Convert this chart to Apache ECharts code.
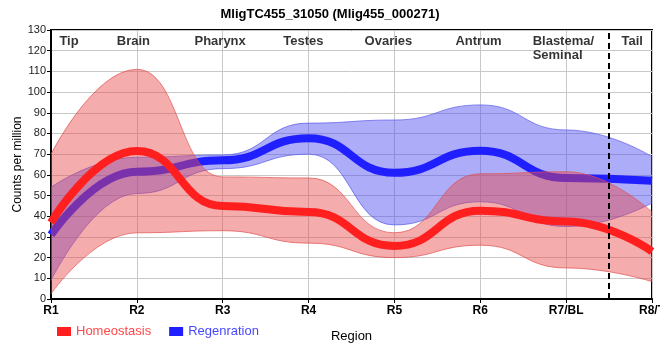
<!DOCTYPE html>
<html>
<head>
<meta charset="utf-8">
<script src="https://cdn.jsdelivr.net/npm/echarts@6/dist/echarts.min.js"></script>
<style>html,body{margin:0;padding:0;background:#fff}#c{width:660px;height:360px}</style>
</head>
<body>
<div id="c"></div>
<script>
var categories = ['R1', 'R2', 'R3', 'R4', 'R5', 'R6', 'R7/BL', 'R8/T'];
var homeo     = [37, 71.5, 45, 42, 25.6, 42.7, 37.5, 23];
var homeoLow  = [2.5, 32, 33, 27, 20, 26, 15, 8.4];
var homeoHigh = [70, 111, 59, 58.5, 32, 60.5, 61.5, 42];
var regen     = [31, 61.5, 67, 77.7, 61, 71.7, 58.5, 57.2];
var regenLow  = [9, 51, 63, 70, 35.8, 47, 35, 46.4];
var regenHigh = [54, 68.5, 69.6, 85, 86.5, 93.8, 81.7, 68.8];
var regionNames = ['Tip', 'Brain', 'Pharynx', 'Testes', 'Ovaries', 'Antrum', 'Blastema/\nSeminal', 'Tail'];
var regionX = [0.21, 0.96, 1.97, 2.94, 3.93, 4.98, 5.61, 6.77];
var regionY = [124.6, 124.6, 124.6, 124.6, 124.6, 124.6, 121.3, 124.6];
var tailBoundary = 6.5;

function diff(hi, lo) { return hi.map(function (v, i) { return +(v - lo[i]).toFixed(3); }); }

var RED = '#ff1f1f', BLUE = '#1f1fff';
var redBand = 'rgba(232,70,70,0.45)', blueBand = 'rgba(70,70,240,0.45)';
var redEdge = 'rgba(225,80,80,0.7)', blueEdge = 'rgba(90,90,235,0.7)';

function band(stack, lo, hi, fill, edge, z) {
  return [{
    type: 'line', stack: stack, data: lo, smooth: true, smoothMonotone: 'x',
    symbol: 'none', silent: true, z: z,
    lineStyle: { width: 1, color: edge }
  }, {
    type: 'line', stack: stack, data: diff(hi, lo), smooth: true, smoothMonotone: 'x',
    symbol: 'none', silent: true, z: z,
    lineStyle: { width: 1, color: edge },
    areaStyle: { color: fill, opacity: 1 }
  }];
}

var series = [];
series = series.concat(band('regenBand', regenLow, regenHigh, blueBand, blueEdge, 1));
series.push({
  name: 'Regenration', type: 'line', data: regen, smooth: true, smoothMonotone: 'x',
  symbol: 'none', z: 2, color: BLUE, lineStyle: { width: 8, color: BLUE }
});
series = series.concat(band('homeoBand', homeoLow, homeoHigh, redBand, redEdge, 3));
series.push({
  name: 'Homeostasis', type: 'line', data: homeo, smooth: true, smoothMonotone: 'x',
  symbol: 'none', z: 4, color: RED, lineStyle: { width: 8, color: RED }
});
series.push({
  type: 'scatter', xAxisIndex: 1, symbolSize: 0, z: 6, silent: true,
  data: regionNames.map(function (n, i) {
    var d = { value: [regionX[i], regionY[i]], name: n };
    if (n.indexOf('\n') >= 0) d.label = { align: 'left' };
    return d;
  }),
  label: {
    show: true, position: 'inside', formatter: function (p) { return p.name; },
    fontFamily: 'Liberation Sans, Arial, sans-serif', fontWeight: 'bold', fontSize: 13,
    color: '#000', lineHeight: 14
  },
  markLine: {
    silent: true, symbol: 'none', label: { show: false },
    lineStyle: { color: '#000', type: [6, 4], width: 2 },
    data: [{ xAxis: tailBoundary }]
  }
});

var chart = echarts.init(document.getElementById('c'), null, { renderer: 'canvas' });
chart.setOption({
  animation: false,
  backgroundColor: '#fff',
  textStyle: { fontFamily: 'Liberation Sans, Arial, sans-serif' },
  title: {
    text: 'MligTC455_31050 (Mlig455_000271)', left: 'center', top: 3,
    textStyle: { fontSize: 13, fontWeight: 'bold', color: '#000', fontFamily: 'Liberation Sans, Arial, sans-serif' }
  },
  legend: {
    left: 52, top: 320, icon: 'rect', itemWidth: 14, itemHeight: 9, itemGap: 18,
    textStyle: { fontSize: 13 },
    data: [
      { name: 'Homeostasis', textStyle: { color: '#ff4848' } },
      { name: 'Regenration', textStyle: { color: '#4848ff' } }
    ]
  },
  grid: {
    left: 51, right: 8, top: 30, bottom: 61, show: true,
    containLabel: false, outerBoundsMode: 'none',
    borderColor: '#000', borderWidth: 2, backgroundColor: 'transparent'
  },
  xAxis: [{
    type: 'category', data: categories, boundaryGap: false,
    name: 'Region', nameLocation: 'middle', nameGap: 31, nameMoveOverlap: false,
    nameTextStyle: { fontSize: 13, color: '#000' },
    axisLine: { lineStyle: { color: '#000', width: 2 } },
    axisTick: { show: true, length: 4, lineStyle: { color: '#000' } },
    axisLabel: { fontSize: 12, fontWeight: 'bold', color: '#000', margin: 6 },
    splitLine: { show: true, lineStyle: { color: '#c8c8c8', width: 1 } }
  }, {
    type: 'value', min: 0, max: 7, show: false
  }],
  yAxis: {
    type: 'value', min: 0, max: 130, interval: 10,
    name: 'Counts per million', nameLocation: 'middle', nameGap: 27, nameMoveOverlap: false,
    nameTextStyle: { fontSize: 12, color: '#000' },
    axisLine: { show: true, lineStyle: { color: '#000', width: 2 } },
    axisTick: { show: true, length: 4, lineStyle: { color: '#000' } },
    axisLabel: { fontSize: 11, color: '#222', margin: 5 },
    splitLine: { show: true, lineStyle: { color: '#c8c8c8', width: 1 } }
  },
  series: series
});
</script>
</body>
</html>
